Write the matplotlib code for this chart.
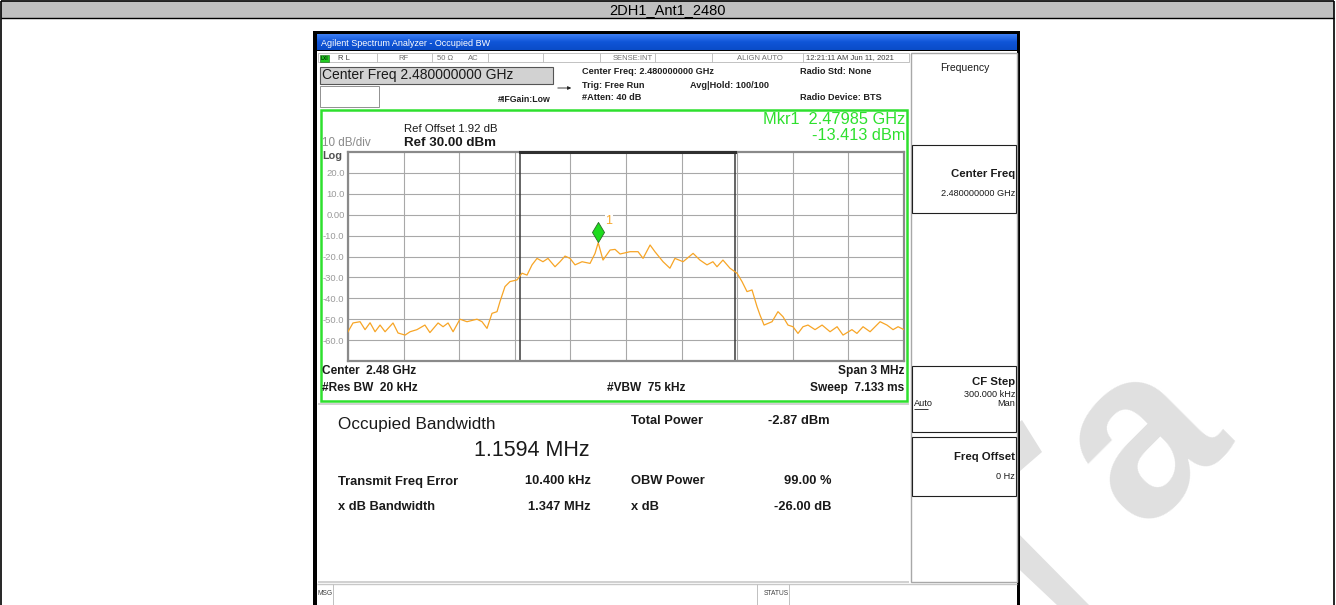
#!/usr/bin/env python3
"""
Nachbau eines Spektrumanalysator-Screenshots (Occupied BW) mit matplotlib.
"""

import numpy as np
import matplotlib
matplotlib.use("Agg")
import matplotlib.pyplot as plt
from matplotlib import font_manager
from matplotlib.patches import Rectangle, Polygon
from matplotlib.path import Path
from matplotlib.transforms import offset_copy

W, H = 1336, 605
FONT = "Liberation Sans"
NAMES = {f.name for f in font_manager.fontManager.ttflist}
NARROW = "Liberation Sans Narrow" if "Liberation Sans Narrow" in NAMES else FONT

# Messwerte / Einstellungen
TITLE = "2DH1_Ant1_2480"
CENTER_GHZ = 2.48
SPAN_MHZ = 3.0
REF_DBM = 30.0
DB_DIV = 10
N_DIV = 10
OBW_MHZ = 1.1594
FREQ_ERR_KHZ = 10.4
MKR_GHZ = 2.47985
MKR_DBM = -13.413

# Spur, Frequenz-Offset zur Mitte in MHz
trace_off_mhz = [
    -1.500, -1.473, -1.435, -1.408, -1.381, -1.354, -1.327, -1.300, -1.257, -1.230,
    -1.192, -1.165, -1.128, -1.085, -1.058, -1.014, -0.987, -0.960, -0.933, -0.896,
    -0.858, -0.804, -0.777, -0.750, -0.723, -0.696, -0.680, -0.653, -0.626, -0.588,
    -0.561, -0.534, -0.507, -0.480, -0.448, -0.421, -0.383, -0.356, -0.329, -0.302,
    -0.275, -0.237, -0.194, -0.167, -0.150, -0.124, -0.086, -0.059, -0.032, 0.022,
    0.065, 0.092, 0.130, 0.156, 0.200, 0.237, 0.264, 0.308, 0.362, 0.399,
    0.437, 0.469, 0.491, 0.523, 0.561, 0.599, 0.626, 0.653, 0.680, 0.707,
    0.723, 0.745, 0.788, 0.820, 0.847, 0.874, 0.901, 0.928, 0.955, 0.982,
    1.020, 1.058, 1.101, 1.139, 1.171, 1.219, 1.246, 1.279, 1.317, 1.344,
    1.371, 1.408, 1.441, 1.468, 1.500,
]
trace_dbm = [
    -56.0, -51.8, -51.2, -55.0, -51.7, -56.0, -52.8, -56.0, -51.8, -56.6,
    -57.6, -56.0, -55.0, -52.8, -56.4, -51.8, -53.6, -51.8, -56.0, -50.0,
    -51.2, -50.0, -51.2, -54.4, -47.2, -46.4, -41.6, -34.4, -32.0, -31.2,
    -28.0, -28.9, -24.0, -20.9, -22.5, -20.9, -24.9, -22.5, -19.8, -20.9,
    -24.0, -22.5, -23.3, -18.5, -13.4, -21.7, -16.9, -16.6, -18.8, -17.7,
    -17.7, -20.9, -14.5, -17.7, -22.5, -25.6, -20.9, -22.5, -18.5, -21.7,
    -24.0, -22.5, -24.9, -21.7, -25.6, -28.0, -32.0, -36.8, -36.0, -44.0,
    -48.0, -52.8, -51.2, -46.4, -48.8, -52.8, -53.6, -56.8, -53.6, -52.8,
    -55.0, -52.8, -56.0, -53.6, -57.6, -55.0, -56.8, -53.6, -56.0, -53.6,
    -51.2, -52.8, -55.0, -53.6, -55.0,
]

ytick_vals = [20, 10, 0, -10, -20, -30, -40, -50, -60]
ytick_labels = ["20.0", "10.0", "0.00", "-10.0", "-20.0", "-30.0", "-40.0", "-50.0", "-60.0"]

# Ergebnis-Tabelle unten
res_left = [("Transmit Freq Error", "10.400 kHz"), ("x dB Bandwidth", "1.347 MHz")]
res_right = [("OBW Power", "99.00 %"), ("x dB", "-26.00 dB")]
total_power = "-2.87 dBm"

GREEN = "#2ee02e"
ORANGE = "#f7a526"
GRID = "#a8a8a8"
WM = "#e0e0e0"


# helferfunktionen (alles in Pixelkoordinaten)

def rect(ax, x0, y0, x1, y1, fc="none", ec="none", lw=0.7, z=2):
    ax.add_patch(Rectangle((x0, y0), x1 - x0, y1 - y0, facecolor=fc,
                           edgecolor=ec, linewidth=lw, zorder=z))

def line(ax, xs, ys, c="#a0a0a0", lw=0.7, z=3):
    ax.plot(xs, ys, color=c, linewidth=lw, zorder=z, solid_capstyle="butt")

def txt(ax, x, y, s, size=8, ha="left", bold=False, c="#000000", fam=FONT, z=5, va="center", **kw):
    ax.text(x, y, s, fontsize=size, ha=ha, va=va, color=c, family=fam,
            fontweight="bold" if bold else "normal", zorder=z, **kw)


fig = plt.figure(figsize=(W / 100, H / 100), dpi=100)
fig.patch.set_facecolor("white")

ui = fig.add_axes([0, 0, 1, 1])
ui.set_xlim(0, W)
ui.set_ylim(H, 0)
ui.axis("off")

# Wasserzeichen (liegt hinter dem Screenshot, Reste anderer Buchstaben als Flaechen)
ui.text(1187, 485, "a", rotation=45, rotation_mode="anchor", ha="center", va="baseline",
        fontsize=170, fontweight="bold", color=WM, family=FONT, zorder=0.5)
ui.add_patch(Polygon([(1005, 520), (1090, 606), (1058, 606), (1005, 556)],
                     closed=True, facecolor=WM, edgecolor="none", zorder=0.5))
ui.add_patch(Polygon([(990, 446), (1022, 420), (1042, 452), (1012, 478)],
                     closed=True, facecolor=WM, edgecolor="none", zorder=0.5))

# Tabelle mit Titelzeile
rect(ui, 1, 1, 1334, 17.5, fc="#c0c0c0", ec="none", z=1)
line(ui, [1, 1334], [1, 1], c="black", lw=1.2, z=6)
line(ui, [1, 1334], [17.5, 17.5], c="black", lw=1.0, z=6)
line(ui, [1, 1], [1, 605], c="black", lw=1.2, z=6)
line(ui, [1334, 1334], [1, 605], c="black", lw=1.2, z=6)
txt(ui, 668, 14.0, TITLE, size=10.5, ha="center", fam=NARROW, va="baseline")

# Fensterrahmen
rect(ui, 313, 31, 1020, 606, fc="black", z=1)
rect(ui, 317, 51, 1017, 606, fc="white", z=1.2)
grad = np.linspace(0, 1, 16).reshape(-1, 1)
ui.imshow(grad, extent=(317, 1017, 50, 34), cmap=matplotlib.colors.LinearSegmentedColormap.from_list(
    "tb", ["#3a7cf2", "#0f55d8", "#0a4cc8"]), aspect="auto", zorder=1.3)
ui.set_xlim(0, W)
ui.set_ylim(H, 0)
txt(ui, 321, 43, "Agilent Spectrum Analyzer - Occupied BW", size=6.5, c="white")

# Statuszeile
rect(ui, 318, 53, 909, 62, fc="white", ec="#b8b8b8", lw=0.6, z=2)
for sx in [377, 432, 488, 543, 600, 655, 712, 803]:
    line(ui, [sx, sx], [53, 62], c="#b8b8b8", lw=0.6)
rect(ui, 319.5, 54.5, 329, 61.5, fc="#22cc22", ec="#116611", lw=0.4, z=3)
txt(ui, 324.2, 58, "LXI", size=3.5, ha="center", bold=True, c="#003300")
stat = "#707070"
txt(ui, 338, 58, "R L", size=5.5, c="#404040")
txt(ui, 398, 58, "RF", size=5.5, c=stat)
txt(ui, 437, 58, "50 Ω", size=5.5, c=stat)
txt(ui, 468, 58, "AC", size=5.5, c=stat)
txt(ui, 653, 58, "SENSE:INT", size=5.5, ha="right", c=stat)
txt(ui, 737, 58, "ALIGN AUTO", size=5.5, c=stat)
txt(ui, 806, 58, "12:21:11 AM Jun 11, 2021", size=5.5, c="#404040")

# Kopfbereich
rect(ui, 320, 67, 553, 84, fc="#d2d2d2", ec="#555555", lw=0.8, z=2)
txt(ui, 322, 75.5, "Center Freq 2.480000000 GHz", size=10, c="#1a1a1a")
rect(ui, 320, 86, 379, 107, fc="white", ec="#909090", lw=0.7, z=2)
txt(ui, 498, 99, "#IFGain:Low", size=6.3, bold=True, c="#202020")
ui.annotate("", xy=(574, 88), xytext=(555, 88),
            arrowprops=dict(arrowstyle="-|>", lw=0.6, color="#202020", mutation_scale=5), zorder=5)
txt(ui, 582, 72, "Center Freq: 2.480000000 GHz", size=6.6, bold=True, c="#202020")
txt(ui, 582, 85, "Trig: Free Run", size=6.6, bold=True, c="#202020")
txt(ui, 690, 85, "Avg|Hold: 100/100", size=6.6, bold=True, c="#202020")
txt(ui, 582, 98, "#Atten: 40 dB", size=6.6, bold=True, c="#202020")
txt(ui, 800, 72, "Radio Std: None", size=6.6, bold=True, c="#202020")
txt(ui, 800, 98, "Radio Device: BTS", size=6.6, bold=True, c="#202020")

# gruener Rahmen um die Grafik
rect(ui, 320.5, 109.5, 907, 401, fc="white", ec=GREEN, lw=1.8, z=2)
txt(ui, 905, 120, f"Mkr1  {MKR_GHZ:.5f} GHz", size=11.8, ha="right", c=GREEN)
txt(ui, 905, 136, f"{MKR_DBM:.3f} dBm", size=11.8, ha="right", c=GREEN)
txt(ui, 404, 128.5, "Ref Offset 1.92 dB", size=8.2, c="#1a1a1a")
txt(ui, 404, 142.5, f"Ref {REF_DBM:.2f} dBm", size=9.6, bold=True, c="#1a1a1a")
txt(ui, 322, 143.5, f"{DB_DIV} dB/div", size=8.4, c="#8a8a8a")
txt(ui, 322, 156, "Log", size=7.8, bold=True, c="#505050")

txt(ui, 322, 371, f"Center  {CENTER_GHZ:.2f} GHz", size=8.6, bold=True, c="#1a1a1a")
txt(ui, 322, 388, "#Res BW  20 kHz", size=8.6, bold=True, c="#1a1a1a")
txt(ui, 646, 388, "#VBW  75 kHz", size=8.6, bold=True, ha="center", c="#1a1a1a")
txt(ui, 904, 371, f"Span {SPAN_MHZ:.0f} MHz", size=8.6, bold=True, ha="right", c="#1a1a1a")
txt(ui, 904, 388, "Sweep  7.133 ms", size=8.6, bold=True, ha="right", c="#1a1a1a")

# Ergebnisbereich
line(ui, [318, 909], [404, 404], c="#c8c8c8", lw=1.2)
line(ui, [318, 909], [581.5, 581.5], c="#c8c8c8", lw=1.2)
txt(ui, 338, 424, "Occupied Bandwidth", size=12.3, c="#1a1a1a")
txt(ui, 590, 451, f"{OBW_MHZ:.4f} MHz", size=15.5, ha="right", c="#1a1a1a")
txt(ui, 631, 421.5, "Total Power", size=9.3, bold=True, c="#1a1a1a")
txt(ui, 830, 421.5, total_power, size=9.3, bold=True, ha="right", c="#1a1a1a")
for i, (lab, val) in enumerate(res_left):
    y = 481.5 + 26 * i
    txt(ui, 338, y, lab, size=9.3, bold=True, c="#1a1a1a")
    txt(ui, 591, y, val, size=9.3, bold=True, ha="right", c="#1a1a1a")
for i, (lab, val) in enumerate(res_right):
    y = 481.5 + 26 * i
    txt(ui, 631, y, lab, size=9.3, bold=True, c="#1a1a1a")
    txt(ui, 831, y, val, size=9.3, bold=True, ha="right", c="#1a1a1a")

# Statusleiste unten
line(ui, [317, 1017], [583.5, 583.5], c="#c8c8c8", lw=1.0)
for sx in [333, 757, 789]:
    line(ui, [sx, sx], [584, 605], c="#c0c0c0", lw=0.7)
txt(ui, 318, 593.5, "MSG", size=4.8, c="#404040")
txt(ui, 764, 593.5, "STATUS", size=4.8, c="#404040")

# Softkey-Leiste rechts
rect(ui, 911, 53, 1017, 582, fc="white", ec="#a8a8a8", lw=1.0, z=2)
txt(ui, 965, 68, "Frequency", size=7.5, ha="center", c="#1a1a1a")
rect(ui, 912, 145, 1016, 213, fc="white", ec="#202020", lw=0.8, z=3)
txt(ui, 1015, 174, "Center Freq", size=8.2, bold=True, ha="right", c="#1a1a1a")
txt(ui, 1015, 194, "2.480000000 GHz", size=6.6, ha="right", c="#1a1a1a")
rect(ui, 912, 366, 1016, 432, fc="white", ec="#202020", lw=0.8, z=3)
txt(ui, 1015, 382, "CF Step", size=8.2, bold=True, ha="right", c="#1a1a1a")
txt(ui, 1015, 394.5, "300.000 kHz", size=6.6, ha="right", c="#1a1a1a")
txt(ui, 914, 404, "Auto", size=6.6, c="#1a1a1a")
line(ui, [914, 928], [408.5, 408.5], c="#1a1a1a", lw=0.6, z=6)
txt(ui, 1015, 404, "Man", size=6.6, ha="right", c="#1a1a1a")
rect(ui, 912, 437, 1016, 496, fc="white", ec="#202020", lw=0.8, z=3)
txt(ui, 1015, 457, "Freq Offset", size=8.2, bold=True, ha="right", c="#1a1a1a")
txt(ui, 1015, 476.5, "0 Hz", size=6.6, ha="right", c="#1a1a1a")

# Spektrum-Grafik
x0, x1, yt, yb = 348, 904, 152, 361
ax = fig.add_axes([x0 / W, 1 - yb / H, (x1 - x0) / W, (yb - yt) / H])
f_lo = CENTER_GHZ - SPAN_MHZ / 2000
f_hi = CENTER_GHZ + SPAN_MHZ / 2000
y_lo = REF_DBM - N_DIV * DB_DIV
ax.set_xlim(f_lo, f_hi)
ax.set_ylim(y_lo, REF_DBM)
ax.set_facecolor("white")
ax.set_xticks(np.linspace(f_lo, f_hi, N_DIV + 1))
ax.set_xticklabels([])
ax.set_yticks(ytick_vals)
ax.set_yticklabels(ytick_labels)
ax.tick_params(length=0, pad=2.5, labelsize=6.8, labelcolor="#9a9a9a")
for lab in ax.get_yticklabels():
    lab.set_family(FONT)
ax.grid(True, color=GRID, linewidth=0.8)
ax.set_axisbelow(True)
for sp in ax.spines.values():
    sp.set_color("#8a8a8a")
    sp.set_linewidth(1.6)

obw_l = CENTER_GHZ + (FREQ_ERR_KHZ / 1000 - OBW_MHZ / 2) / 1000
obw_r = CENTER_GHZ + (FREQ_ERR_KHZ / 1000 + OBW_MHZ / 2) / 1000
for xv in (obw_l, obw_r):
    ax.axvline(xv, color="#3a3a3a", linewidth=1.1, zorder=2)
ax.plot([obw_l, obw_r], [REF_DBM, REF_DBM], color="#303030", linewidth=2.2,
        clip_on=False, zorder=4)

freqs = CENTER_GHZ + np.array(trace_off_mhz) / 1000
ax.plot(freqs, trace_dbm, color=ORANGE, linewidth=0.9, zorder=3)

# Marker (Raute ueber dem Peak)
diamond = Path([(0, 1), (0.6, 0), (0, -1), (-0.6, 0), (0, 1)],
               [Path.MOVETO, Path.LINETO, Path.LINETO, Path.LINETO, Path.CLOSEPOLY])
tr_m = offset_copy(ax.transData, fig=fig, x=0, y=7.4, units="points")
ax.plot([MKR_GHZ], [MKR_DBM], marker=diamond, markersize=14.5, color="#1edc1e",
        markeredgecolor="#2a6a2a", markeredgewidth=0.6, transform=tr_m, zorder=6,
        clip_on=False)
tr_l = offset_copy(ax.transData, fig=fig, x=5.2, y=15.5, units="points")
ax.text(MKR_GHZ, MKR_DBM, "1", transform=tr_l, fontsize=9, color=ORANGE, family=FONT,
        ha="left", va="center", zorder=6,
        bbox=dict(facecolor="white", edgecolor="none", pad=0.6))

fig.savefig("out.png", dpi=100)
